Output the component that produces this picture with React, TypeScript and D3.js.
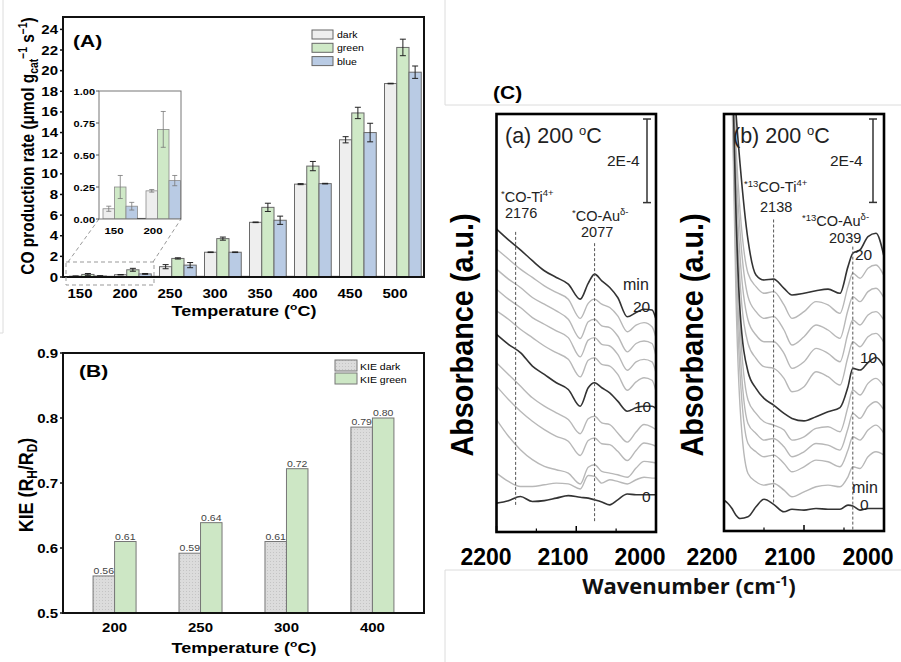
import React from "react";
import * as d3 from "d3";

const FONT = "'Liberation Sans', Arial, Helvetica, sans-serif";

// ---------- Panel A data ----------
const tempsA = [150, 200, 250, 300, 350, 400, 450, 500];
const seriesA = ["dark", "green", "blue", "blank"];
const darkRate = [0.08, 0.22, 1.0, 2.4, 5.3, 9.0, 13.3, 18.75];
const darkErr = [0.02, 0.01, 0.2, 0.03, 0.03, 0.05, 0.3, 0.03];
const greenRate = [0.25, 0.7, 1.8, 3.72, 6.75, 10.75, 15.9, 22.25];
const greenErr = [0.09, 0.14, 0.06, 0.15, 0.4, 0.45, 0.55, 0.8];
const blueRate = [0.1, 0.3, 1.15, 2.4, 5.5, 9.05, 14.0, 19.85];
const blueErr = [0.03, 0.04, 0.25, 0.03, 0.4, 0.03, 0.9, 0.6];
const blankRate = [0.06, 0.06, 0.06, 0.06, 0.06, 0.06, 0.06, 0.06];
const yTicksA = [0, 2, 4, 6, 8, 10, 12, 14, 16, 18, 20, 22, 24];
const insetTemps = [150, 200];
const insetTicks = [0, 0.25, 0.5, 0.75, 1.0];
const legendA = ["dark", "green", "blue"];

// ---------- Panel B data ----------
const tempsB = ["200", "250", "300", "400"];
const kieDark = [0.557, 0.592, 0.61, 0.786];
const kieGreen = [0.61, 0.639, 0.722, 0.8];
const yTicksB = [0.5, 0.6, 0.7, 0.8, 0.9];
const legendB = ["KIE dark", "KIE green"];

// ---------- Panel C data (absorbance, units of 1e-6) ----------
const wnA = [2200, 2185, 2170, 2155, 2140, 2125, 2110, 2095, 2085, 2077, 2068, 2058, 2048, 2036, 2025, 2015, 2005, 2000];
const specA0 = [69, 75, 85, 73, 75, 81, 87, 83, 81, 77, 72, 65, 77, 91, 89, 89, 89, 89];
const specA2 = [141, 121, 109, 109, 113, 117, 115, 103, 135, 133, 117, 125, 121, 115, 125, 131, 129, 129];
const specA4 = [269, 229, 197, 173, 157, 149, 141, 115, 155, 161, 145, 141, 137, 131, 153, 169, 167, 165];
const specA6 = [349, 317, 289, 265, 245, 229, 217, 183, 219, 225, 211, 209, 193, 171, 195, 213, 209, 205];
const specA8 = [405, 377, 349, 321, 301, 285, 269, 235, 271, 277, 261, 257, 237, 215, 239, 257, 251, 245];
const specA10 = [473, 449, 429, 397, 377, 357, 341, 301, 345, 357, 345, 333, 313, 289, 297, 301, 301, 295];
const specA12 = [529, 509, 485, 465, 445, 429, 413, 371, 411, 417, 401, 397, 377, 339, 359, 369, 363, 337];
const specA14 = [581, 557, 537, 513, 497, 481, 465, 419, 459, 465, 449, 445, 425, 387, 407, 413, 407, 381];
const specA16 = [629, 605, 585, 561, 545, 529, 509, 463, 503, 509, 493, 489, 469, 431, 451, 457, 451, 421];
const specA18 = [677, 653, 629, 609, 589, 573, 557, 511, 547, 557, 545, 537, 517, 479, 495, 501, 491, 465];
const specA20 = [725, 699, 675, 649, 625, 609, 593, 557, 595, 617, 601, 585, 561, 515, 525, 533, 531, 509];

const wnB = [2200, 2195, 2190, 2185, 2180, 2170, 2160, 2150, 2138, 2125, 2115, 2100, 2085, 2070, 2055, 2045, 2039, 2030, 2020, 2010, 2000];
const specB0 = [74, 66, 54, 38, 30, 34, 58, 76, 64, 46, 52, 50, 54, 52, 52, 62, 60, 50, 54, 54, 54];
const specB2 = [1600, 1300, 1050, 560, 300, 138, 118, 110, 114, 98, 82, 94, 106, 110, 106, 130, 154, 150, 178, 190, 182];
const specB4 = [1600, 1300, 1080, 620, 380, 210, 190, 178, 182, 162, 142, 154, 170, 166, 154, 194, 226, 218, 242, 254, 234];
const specB6 = [1600, 1300, 1100, 680, 440, 258, 234, 218, 222, 202, 178, 190, 210, 206, 194, 246, 282, 270, 298, 310, 290];
const specB8 = [1600, 1300, 1120, 740, 500, 314, 282, 262, 254, 242, 218, 226, 246, 250, 238, 298, 338, 326, 354, 366, 346];
const specB10 = [1600, 1350, 1150, 760, 530, 382, 342, 318, 302, 282, 270, 264, 274, 286, 296, 346, 390, 386, 404, 416, 394];
const specB12 = [1600, 1350, 1150, 800, 600, 450, 414, 394, 390, 366, 334, 346, 382, 370, 350, 418, 454, 442, 466, 474, 452];
const specB14 = [1600, 1350, 1150, 840, 660, 506, 470, 454, 454, 426, 390, 406, 438, 426, 406, 474, 506, 494, 518, 526, 505];
const specB16 = [1600, 1400, 1150, 880, 720, 562, 526, 510, 514, 482, 446, 466, 494, 482, 462, 530, 562, 550, 574, 582, 559];
const specB18 = [1600, 1400, 1150, 920, 770, 618, 586, 570, 574, 542, 510, 526, 550, 542, 522, 586, 618, 606, 630, 638, 612];
const specB20 = [1600, 1400, 1154, 1002, 882, 698, 614, 602, 604, 582, 566, 570, 576, 580, 570, 634, 666, 674, 706, 714, 658];

const timesC = [0, 2, 4, 6, 8, 10, 12, 14, 16, 18, 20];
const wnTicks = [2200, 2100, 2000];
const wnMinor = [2150, 2050];

function Txt({ x, y, sy = 1, rot = false, size, weight = "normal", anchor = "start", fill = "#000", family = FONT, children }: any) {
  const tr = `translate(${x},${y}) scale(1,${sy})` + (rot ? " rotate(-90)" : "");
  return (
    <text transform={tr} fontSize={size} fontWeight={weight} textAnchor={anchor} fill={fill} fontFamily={family}>
      {children}
    </text>
  );
}

function PanelA() {
  const xA = d3.scaleLinear().domain([150, 500]).range([80, 395]);
  const yA = d3.scaleLinear().domain([0, 25.2]).range([277, 17]);
  const subA = d3.scaleBand().domain(seriesA).range([0, 49]);
  const fills: any = { dark: "#eeeeee", green: "#cfe9c7", blue: "#b9cbe4", blank: "#333" };
  const vals: any = { dark: darkRate, green: greenRate, blue: blueRate, blank: blankRate };
  const errs: any = { dark: darkErr, green: greenErr, blue: blueErr };
  const bw = subA.bandwidth();

  const xI = d3.scaleLinear().domain([150, 200]).range([112, 155]);
  const xIl = d3.scaleLinear().domain([150, 200]).range([114, 153]);
  const yI = d3.scaleLinear().domain([0, 1]).range([219, 91]);
  const subI = d3.scaleBand().domain(seriesA).range([0, 46]);
  const bwI = subI.bandwidth();
  const SY = 0.8;

  return (
    <g>
      <defs>
        <clipPath id="clipA"><rect x={63} y={17} width={361} height={260} /></clipPath>
        <clipPath id="clipI"><rect x={99} y={91} width={82} height={128} /></clipPath>
      </defs>
      <g clipPath="url(#clipA)">
        {tempsA.map((t, i) =>
          seriesA.map((s) => {
            const v = vals[s][i];
            const x0 = xA(t) - 10.5 + (subA(s) as number);
            return (
              <rect key={t + s} x={x0} y={yA(v)} width={bw} height={yA(0) - yA(v)}
                fill={fills[s]} stroke={s === "blank" ? "#333" : "#6a6a6a"} strokeWidth={1} />
            );
          })
        )}
        {tempsA.map((t, i) =>
          ["dark", "green", "blue"].map((s) => {
            const v = vals[s][i], e = errs[s][i];
            const cx = xA(t) - 10.5 + (subA(s) as number) + bw / 2;
            return (
              <g key={"e" + t + s} stroke="#222" strokeWidth={1}>
                <line x1={cx} x2={cx} y1={yA(v - e)} y2={yA(v + e)} />
                <line x1={cx - 3} x2={cx + 3} y1={yA(v + e)} y2={yA(v + e)} />
                <line x1={cx - 3} x2={cx + 3} y1={yA(v - e)} y2={yA(v - e)} />
              </g>
            );
          })
        )}
      </g>
      <rect x={63} y={17} width={361} height={260} fill="none" stroke="#111" strokeWidth={2} />
      {yTicksA.map((t) => (
        <g key={"ya" + t}>
          <line x1={60} x2={63} y1={yA(t)} y2={yA(t)} stroke="#111" strokeWidth={1.5} />
          <Txt x={58} y={yA(t) + 4.5} sy={SY} size={15} weight="bold" anchor="end">{t}</Txt>
        </g>
      ))}
      {tempsA.map((t) => (
        <Txt key={"xa" + t} x={xA(t)} y={298} sy={SY} size={15} weight="bold" anchor="middle">{t}</Txt>
      ))}
      <Txt x={244} y={316} sy={0.82} size={18} weight="bold" anchor="middle">
        Temperature (<tspan fontSize={12} dy={-7}>o</tspan><tspan dy={7}>C)</tspan>
      </Txt>
      <Txt x={34} y={146} sy={0.86} rot size={18} weight="bold" anchor="middle">
        CO production rate (μmol g<tspan fontSize={12} dy={4}>cat</tspan>
        <tspan fontSize={12} dy={-11}>−1</tspan>
        <tspan dy={7}> s</tspan>
        <tspan fontSize={12} dy={-7}>−1</tspan>
        <tspan dy={7}>)</tspan>
      </Txt>
      <Txt x={73} y={47} sy={0.82} size={21} weight="bold">(A)</Txt>

      {/* legend */}
      {legendA.map((s, i) => (
        <g key={"lg" + s}>
          <rect x={312} y={30 + i * 13.3} width={21} height={9} fill={fills[s]} stroke="#666" strokeWidth={1} />
          <Txt x={337} y={38 + i * 13.3} sy={0.85} size={10.5}>{s}</Txt>
        </g>
      ))}

      {/* zoom guide */}
      <rect x={66} y={262} width={88} height={23} fill="none" stroke="#999" strokeWidth={1} strokeDasharray="4,3" />
      <line x1={68} y1={262} x2={99} y2={219} stroke="#999" strokeWidth={1} strokeDasharray="4,3" />
      <line x1={153} y1={262} x2={181} y2={219} stroke="#999" strokeWidth={1} strokeDasharray="4,3" />

      {/* inset */}
      <rect x={99} y={91} width={82} height={128} fill="#fff" />
      <g clipPath="url(#clipI)">
        {insetTemps.map((t, i) =>
          seriesA.map((s) => {
            const v = vals[s][i];
            const x0 = xI(t) - 9 + (subI(s) as number);
            return (
              <rect key={"i" + t + s} x={x0} y={yI(s === "blank" ? 0.005 : v)} width={bwI}
                height={yI(0) - yI(s === "blank" ? 0.005 : v)} fill={fills[s]}
                stroke={s === "blank" ? "#333" : "#8a8a8a"} strokeWidth={0.8} />
            );
          })
        )}
        {insetTemps.map((t, i) =>
          ["dark", "green", "blue"].map((s) => {
            const v = vals[s][i], e = errs[s][i];
            const cx = xI(t) - 9 + (subI(s) as number) + bwI / 2;
            return (
              <g key={"ie" + t + s} stroke="#777" strokeWidth={0.8}>
                <line x1={cx} x2={cx} y1={yI(v - e)} y2={yI(v + e)} />
                <line x1={cx - 2.5} x2={cx + 2.5} y1={yI(v + e)} y2={yI(v + e)} />
                <line x1={cx - 2.5} x2={cx + 2.5} y1={yI(v - e)} y2={yI(v - e)} />
              </g>
            );
          })
        )}
      </g>
      <rect x={99} y={91} width={82} height={128} fill="none" stroke="#777" strokeWidth={1} />
      {insetTicks.map((t) => (
        <g key={"it" + t}>
          <line x1={96} x2={99} y1={yI(t)} y2={yI(t)} stroke="#555" strokeWidth={1} />
          <Txt x={95} y={yI(t) + 3.6} sy={0.82} size={11} weight="bold" anchor="end">{d3.format(".2f")(t)}</Txt>
        </g>
      ))}
      {insetTemps.map((t) => (
        <Txt key={"ix" + t} x={xIl(t)} y={234} sy={0.82} size={11.5} weight="bold" anchor="middle">{t}</Txt>
      ))}
    </g>
  );
}

function PanelB() {
  const xB = d3.scalePoint().domain(tempsB).range([63, 424]).padding(0.6);
  const yB = d3.scaleLinear().domain([0.5, 0.9]).range([613, 353]);
  const w = 21.5;
  const SY = 0.82;
  const fmt = d3.format(".2f");
  return (
    <g>
      <defs>
        <pattern id="dots" width={3} height={3} patternUnits="userSpaceOnUse">
          <rect width={3} height={3} fill="#dcdcdc" />
          <rect width={1} height={1} fill="#c4c4c4" />
        </pattern>
      </defs>
      {tempsB.map((t, i) => {
        const c = xB(t) as number;
        return (
          <g key={"b" + t}>
            <rect x={c - w} y={yB(kieDark[i])} width={w} height={yB(0.5) - yB(kieDark[i])} fill="url(#dots)" stroke="#777" strokeWidth={1} />
            <rect x={c} y={yB(kieGreen[i])} width={w} height={yB(0.5) - yB(kieGreen[i])} fill="#cde7c5" stroke="#777" strokeWidth={1} />
            <Txt x={c - w / 2} y={yB(kieDark[i]) - 2} sy={SY} size={10.5} fill="#444" anchor="middle">{fmt(kieDark[i])}</Txt>
            <Txt x={c + w / 2} y={yB(kieGreen[i]) - 2} sy={SY} size={10.5} fill="#444" anchor="middle">{fmt(kieGreen[i])}</Txt>
          </g>
        );
      })}
      <rect x={63} y={353} width={361} height={260} fill="none" stroke="#111" strokeWidth={2} />
      {yTicksB.map((t) => (
        <g key={"yb" + t}>
          <line x1={60} x2={63} y1={yB(t)} y2={yB(t)} stroke="#111" strokeWidth={1.5} />
          <Txt x={58} y={yB(t) + 4.5} sy={SY} size={15} weight="bold" anchor="end">{d3.format(".1f")(t)}</Txt>
        </g>
      ))}
      {tempsB.map((t) => (
        <Txt key={"xb" + t} x={xB(t)} y={632} sy={SY} size={15} weight="bold" anchor="middle">{t}</Txt>
      ))}
      <Txt x={244} y={653} sy={0.82} size={18} weight="bold" anchor="middle">
        Temperature (<tspan fontSize={12} dy={-7}>o</tspan><tspan dy={7}>C)</tspan>
      </Txt>
      <Txt x={33} y={485} sy={0.85} rot size={21} weight="bold" anchor="middle">
        KIE (R<tspan fontSize={14} dy={4}>H</tspan><tspan dy={-4}>/R</tspan><tspan fontSize={14} dy={4}>D</tspan><tspan dy={-4}>)</tspan>
      </Txt>
      <Txt x={79} y={377} sy={0.82} size={21} weight="bold">(B)</Txt>
      {legendB.map((s, i) => (
        <g key={"lb" + s}>
          <rect x={335} y={360 + i * 13} width={22} height={11} fill={i === 0 ? "url(#dots)" : "#cde7c5"} stroke="#777" strokeWidth={1} />
          <Txt x={360} y={369.5 + i * 13} sy={0.85} size={10.5}>{s}</Txt>
        </g>
      ))}
    </g>
  );
}

function SpecPanel({ id, x0, x1, y0, y1, wn, spectra, labX }: any) {
  const xs = d3.scaleLinear().domain([2200, 2000]).range([x0, x1]);
  const ys = d3.scaleLinear().domain([0, 1000]).range([y1, y0]);
  const xl = d3.scaleLinear().domain([2200, 2000]).range(labX);
  const line = d3.line<number>().x((_, i) => xs(wn[i])).y((d) => ys(d)).curve(d3.curveMonotoneX);
  const order = timesC.map((t, i) => i).sort((a, b) => (timesC[a] % 10 === 0 ? 1 : 0) - (timesC[b] % 10 === 0 ? 1 : 0));
  return (
    <g>
      <defs>
        <clipPath id={id}><rect x={x0} y={y0} width={x1 - x0} height={y1 - y0} /></clipPath>
      </defs>
      <g clipPath={`url(#${id})`}>
        {order.map((i) => {
          const dark = timesC[i] % 10 === 0;
          return (
            <path key={id + i} d={line(spectra[i]) as string} fill="none"
              stroke={dark ? "#333" : "#b8b8b8"} strokeWidth={dark ? 1.6 : 1.4} />
          );
        })}
      </g>
      <rect x={x0} y={y0} width={x1 - x0} height={y1 - y0} fill="none" stroke="#000" strokeWidth={2.6} />
      {wnTicks.map((w) => (
        <g key={id + "t" + w}>
          <line x1={xs(w)} x2={xs(w)} y1={y1} y2={y1 - 6} stroke="#000" strokeWidth={1.5} />
          <Txt x={xl(w)} y={565} size={23} weight="bold" anchor="middle">{w}</Txt>
        </g>
      ))}
      {wnMinor.map((w) => (
        <line key={id + "m" + w} x1={xs(w)} x2={xs(w)} y1={y1} y2={y1 - 3.5} stroke="#000" strokeWidth={1.2} />
      ))}
    </g>
  );
}

function PanelC() {
  const specsA = [specA0, specA2, specA4, specA6, specA8, specA10, specA12, specA14, specA16, specA18, specA20];
  const specsB = [specB0, specB2, specB4, specB6, specB8, specB10, specB12, specB14, specB16, specB18, specB20];
  const xa = d3.scaleLinear().domain([2200, 2000]).range([496.5, 656]);
  const xb = d3.scaleLinear().domain([2200, 2000]).range([724, 884]);
  const ya = d3.scaleLinear().domain([0, 1000]).range([532, 114]);
  const yb = d3.scaleLinear().domain([0, 1000]).range([531, 114]);
  const dash = { stroke: "#555", strokeWidth: 1, strokeDasharray: "3,2" };
  const S = 14.5;
  return (
    <g>
      <Txt x={493} y={99} sy={0.85} size={21} weight="bold">(C)</Txt>
      <SpecPanel id="ca" x0={496.5} x1={656} y0={114} y1={532} wn={wnA} spectra={specsA} labX={[486, 640]} />
      <SpecPanel id="cb" x0={724} x1={884} y0={114} y1={531} wn={wnB} spectra={specsB} labX={[712, 868]} />

      {/* dashed guide lines */}
      <line x1={xa(2176)} x2={xa(2176)} y1={ya(718)} y2={ya(60)} {...dash} />
      <line x1={xa(2077)} x2={xa(2077)} y1={ya(691)} y2={ya(22)} {...dash} />
      <line x1={xb(2138)} x2={xb(2138)} y1={yb(747)} y2={yb(67)} {...dash} />
      <line x1={xb(2039)} x2={xb(2039)} y1={yb(682)} y2={yb(0)} {...dash} />

      {/* scale bars 2E-4 */}
      {[{ x: 647, y: ya }, { x: 873, y: yb }].map((b, i) => (
        <g key={"sb" + i} stroke="#333" strokeWidth={1.5}>
          <line x1={b.x} x2={b.x} y1={b.y(988)} y2={b.y(788)} />
          <line x1={b.x - 4} x2={b.x + 4} y1={b.y(988)} y2={b.y(988)} />
          <line x1={b.x - 4} x2={b.x + 4} y1={b.y(788)} y2={b.y(788)} />
        </g>
      ))}

      {/* (a) annotations */}
      <Txt x={505} y={143} size={21.5} fill="#222">(a) 200 <tspan fontSize={13} dy={-8}>o</tspan><tspan dy={8}>C</tspan></Txt>
      <Txt x={607} y={166} size={15.5} fill="#222">2E-4</Txt>
      <Txt x={501} y={202} size={S} fill="#222"><tspan fontSize={9.5} dy={-5}>*</tspan><tspan dy={5}>CO-Ti</tspan><tspan fontSize={9.5} dy={-6}>4+</tspan></Txt>
      <Txt x={505} y={218} size={S} fill="#222">2176</Txt>
      <Txt x={572} y={221} size={S} fill="#222"><tspan fontSize={9.5} dy={-5}>*</tspan><tspan dy={5}>CO-Au</tspan><tspan fontSize={9.5} dy={-6}>δ-</tspan></Txt>
      <Txt x={581} y={237} size={S} fill="#222">2077</Txt>
      <Txt x={623} y={290} size={16} fill="#222">min</Txt>
      <Txt x={633} y={312} size={15.5} fill="#222">20</Txt>
      <Txt x={634} y={412} size={15.5} fill="#222">10</Txt>
      <Txt x={642} y={502} size={15.5} fill="#222">0</Txt>

      {/* (b) annotations */}
      <Txt x={733} y={143} size={21.5} fill="#222">(b) 200 <tspan fontSize={13} dy={-8}>o</tspan><tspan dy={8}>C</tspan></Txt>
      <Txt x={830} y={166} size={15.5} fill="#222">2E-4</Txt>
      <Txt x={744} y={192} size={S} fill="#222"><tspan fontSize={9.5} dy={-5}>*13</tspan><tspan dy={5}>CO-Ti</tspan><tspan fontSize={9.5} dy={-6}>4+</tspan></Txt>
      <Txt x={760} y={212} size={S} fill="#222">2138</Txt>
      <Txt x={802} y={226} size={S} fill="#222"><tspan fontSize={9.5} dy={-5}>*13</tspan><tspan dy={5}>CO-Au</tspan><tspan fontSize={9.5} dy={-6}>δ-</tspan></Txt>
      <Txt x={829} y={243} size={S} fill="#222">2039</Txt>
      <Txt x={855} y={260} size={15.5} fill="#222">20</Txt>
      <Txt x={860} y={363} size={15.5} fill="#222">10</Txt>
      <Txt x={852} y={493} size={16} fill="#222">min</Txt>
      <Txt x={860} y={510} size={15.5} fill="#222">0</Txt>

      {/* axis titles */}
      <Txt x={473} y={335} sy={0.9} rot size={32} weight="bold" anchor="middle">Absorbance (a.u.)</Txt>
      <Txt x={703} y={335} sy={0.9} rot size={32} weight="bold" anchor="middle">Absorbance (a.u.)</Txt>
      <Txt x={689} y={594} size={22} weight="bold" anchor="middle" fill="#111" family="'Open Sans', 'Noto Sans', sans-serif">
        Wavenumber (cm<tspan fontSize={14} dy={-8}>-1</tspan><tspan dy={8}>)</tspan>
      </Txt>
    </g>
  );
}

export default function App() {
  return (
    <svg width={901} height={662} viewBox="0 0 901 662"
      style={{ position: "absolute", left: 0, top: 0, background: "#fff", display: "block" }}>
      <rect x={0} y={0} width={901} height={662} fill="#fff" />
      {/* composite frame lines */}
      <g stroke="#dcdcdc" strokeWidth={1}>
        <line x1={3} y1={0} x2={3} y2={333} />
        <line x1={0} y1={333} x2={3} y2={333} />
        <line x1={445} y1={0} x2={445} y2={105} />
        <line x1={445} y1={105} x2={901} y2={105} />
        <line x1={445} y1={570} x2={901} y2={570} />
        <line x1={445} y1={570} x2={445} y2={662} />
      </g>
      <PanelA />
      <PanelB />
      <PanelC />
    </svg>
  );
}
